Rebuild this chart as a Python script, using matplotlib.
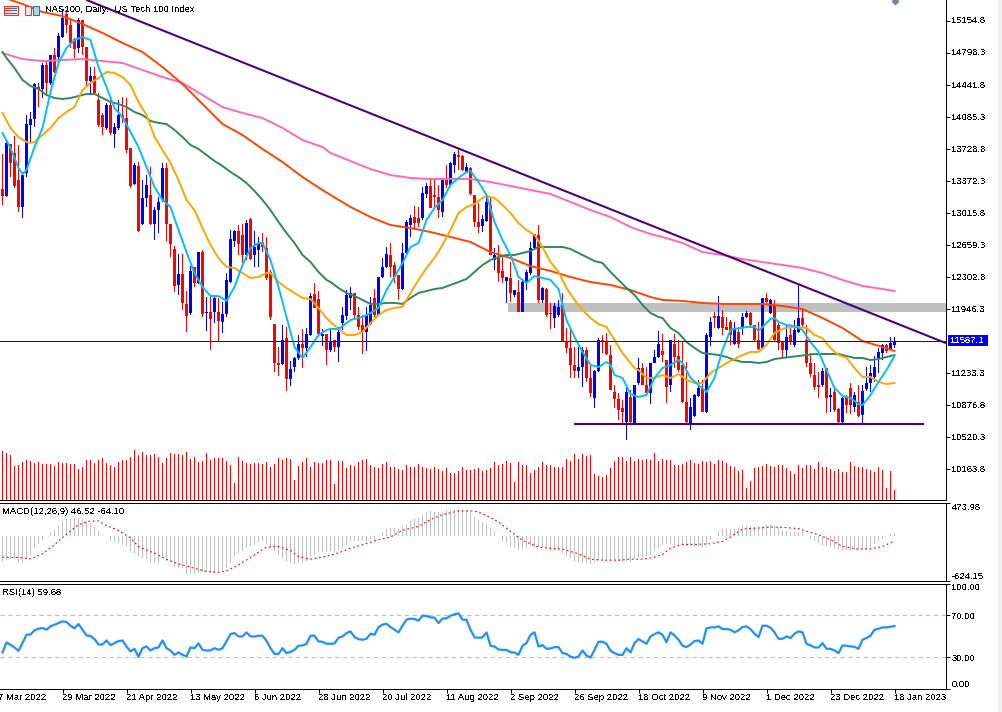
import matplotlib
matplotlib.use('Agg')
import matplotlib.pyplot as plt
from matplotlib import font_manager
from matplotlib.patches import Rectangle
from matplotlib.transforms import ScaledTranslation

#narrow face when it is there, the screenshot text is condensed
names = {f.name for f in font_manager.fontManager.ttflist}
if 'Liberation Sans Narrow' in names:
    plt.rcParams['font.family'] = ['Liberation Sans Narrow', 'DejaVu Sans']
    FS = 7.7
else:
    plt.rcParams['font.family'] = ['Liberation Sans', 'DejaVu Sans']
    FS = 6.8
plt.rcParams['text.antialiased'] = False

W, H = 1002, 712

#daily candles, bar 0 is the first one on screen
opens = [13283,13205,13784,13685,13384,13083,13462,13997,14063,14419,
         14397,14665,14465,14776,14754,14977,15233,15110,14954,14854,
         15166,14865,14487,14542,14275,14107,13963,14219,13896,13963,
         14107,14074,13740,13339,13540,12893,13183,13217,12893,13049,
         13161,13518,12893,12615,12214,12336,12003,11902,12414,12236,
         12581,11902,11913,11913,11913,11802,11891,12247,12704,12816,
         12771,12548,12949,12548,12604,12693,12626,12359,11779,11345,
         11334,11623,11167,11300,11401,11557,11512,11657,12114,12058,
         11646,11668,11490,11601,11523,11790,11869,12069,12125,11880,
         11768,11690,11779,12069,11880,12303,12414,12548,12437,12325,
         12169,12570,12882,12971,12960,12960,13228,13317,13217,13194,
         13027,13384,13328,13551,13662,13651,13473,13518,13217,12916,
         12871,12927,13105,12492,12514,12370,12258,12292,12103,12136,
         11913,12247,12347,12626,12771,12047,12169,11902,11846,11880,
         11991,11590,11512,11323,11255,11300,11490,11178,10955,11255,
         11601,11579,11434,11022,10944,10844,10688,10966,10677,11122,
         11289,11100,11011,11345,11412,11479,11378,11100,11557,11423,
         11323,10911,10677,10755,10978,11067,10799,11635,11869,11735,
         11858,11746,11802,11557,11690,11746,11858,11902,11768,11601,
         11512,12069,11902,11991,11768,11579,11490,11657,11545,11690,
         11846,11601,11345,11211,11100,11100,11289,10966,11022,10833,
         10688,10966,11067,10855,10911,10766,11056,11122,11189,11401,
         11456,11545,11501,11545]
highs = [13673,13807,13784,13874,13773,13473,14107,14141,14465,14465,
         14687,14720,14776,14854,15022,15277,15277,15166,14965,15188,
         15166,14865,14642,14642,14353,14130,14241,14308,14019,14275,
         14308,14297,13740,13573,13584,13384,13439,13529,13083,13194,
         13573,13573,12893,12648,12559,12559,12147,12425,12414,12581,
         12604,12080,12080,12091,12069,12025,12347,12827,12827,12882,
         12893,12938,12960,12816,12749,12793,12749,12381,11779,11523,
         11768,11746,11367,11412,11657,11724,11735,12125,12236,12147,
         11724,11668,11713,11601,11746,11969,12158,12192,12125,11969,
         11880,11969,12080,12169,12303,12514,12637,12682,12470,12325,
         12682,12938,12994,13094,13083,13305,13350,13384,13384,13328,
         13395,13551,13584,13696,13740,13662,13573,13529,13217,13128,
         12994,13194,13194,12626,12660,12526,12303,12470,12158,12270,
         12270,12381,12693,12782,12882,12192,12181,12014,12014,12047,
         12125,11735,11735,11523,11523,11523,11523,11323,11267,11623,
         11657,11679,11545,11100,11011,10933,11100,11044,11100,11401,
         11345,11300,11345,11490,11701,11668,11378,11601,11668,11601,
         11579,11356,10955,11000,11156,11156,11679,11858,11913,12091,
         11935,11858,11824,11802,11746,11902,11924,11913,11768,11802,
         12069,12125,12058,12047,11790,11579,11768,11746,11824,12214,
         11958,11768,11456,11345,11245,11289,11289,11067,11078,10844,
         10989,10989,11122,11022,11100,11100,11300,11323,11423,11512,
         11557,11557,11635,11635]
lows = [13105,13194,13417,13294,13027,12960,13417,13807,13974,14196,
        14297,14330,14442,14576,14665,14965,15022,14854,14743,14798,
        14776,14419,14330,14330,13974,13885,13941,13885,13740,13941,
        14019,13685,13294,13328,12804,12882,13083,12882,12715,12793,
        13139,12704,12526,12136,12103,11935,11690,11880,12192,12225,
        11858,11701,11490,11790,11579,11679,11858,12236,12637,12548,
        12459,12492,12492,12414,12414,12581,12270,11824,11245,11200,
        11323,11033,11089,11245,11378,11289,11412,11646,11958,11635,
        11534,11323,11468,11468,11356,11713,11824,11935,11824,11713,
        11445,11479,11768,11858,11869,12292,12403,12303,12236,12047,
        12158,12548,12749,12827,12860,12938,13183,13072,13072,12960,
        12971,13294,13305,13462,13495,13484,13462,13217,12860,12793,
        12804,12916,12548,12381,12247,12236,12014,12025,12080,11913,
        11913,12158,12325,12604,12014,12014,11858,11724,11735,11858,
        11579,11456,11178,11178,11178,11078,11133,10966,10844,11245,
        11456,11434,11044,10844,10710,10677,10487,10677,10677,11100,
        11100,10989,10889,11345,11401,11356,10899,11022,11289,11245,
        10899,10677,10599,10744,10966,10799,10788,11534,11735,11724,
        11657,11713,11545,11545,11512,11657,11846,11746,11579,11490,
        11501,12014,11891,11579,11490,11401,11401,11545,11523,11679,
        11746,11300,11189,11044,10955,11078,10788,10799,10799,10677,
        10677,10788,10777,10799,10744,10677,11033,11022,11133,11233,
        11378,11456,11490,11512]
closes = [13205,13796,13573,13317,13083,13439,14007,14063,14453,14397,
          14665,14465,14776,14587,14988,15188,15110,14910,14843,15166,
          14865,14487,14542,14353,13997,13974,14219,13907,13974,14107,
          14074,13718,13317,13551,12816,13183,13328,12893,13049,13139,
          13518,12893,12670,12203,12336,12014,11869,12370,12236,12581,
          11891,11913,11835,12069,11813,11891,12270,12726,12816,12670,
          12548,12904,12503,12637,12682,12637,12292,11858,11345,11323,
          11601,11167,11278,11401,11557,11512,11668,12091,11958,11668,
          11668,11490,11590,11523,11690,11880,12103,12125,11880,11746,
          11690,11880,11991,11880,12303,12414,12559,12414,12303,12169,
          12570,12916,12960,12904,12904,13239,13317,13072,13194,13049,
          13384,13328,13573,13673,13640,13495,13529,13228,12916,12860,
          12949,13139,12548,12548,12347,12292,12303,12125,12158,11913,
          12247,12359,12626,12782,12047,12181,11880,11891,11980,11969,
          11590,11512,11323,11255,11300,11490,11178,11011,11255,11601,
          11579,11445,11044,10944,10821,10799,11022,10688,11100,11289,
          11100,11011,11345,11412,11557,11434,11078,11601,11412,11267,
          10911,10688,10855,10989,11067,10799,11657,11802,11846,11869,
          11735,11713,11657,11735,11557,11858,11902,11768,11601,11501,
          12069,12025,12047,11601,11568,11490,11635,11590,11713,11846,
          11768,11345,11222,11078,11078,11255,10955,10989,10821,10688,
          10955,10877,10877,10989,10755,11033,11122,11233,11300,11468,
          11545,11479,11568,11587.1]

#volume, indicator own scale
volume = [49,47,45,34,35,38,40,39,37,38,36,36,36,34,38,37,37,36,36,31,
          33,40,40,37,40,42,37,35,33,38,40,40,43,50,45,48,45,45,46,43,
          37,42,47,46,46,45,48,41,43,38,39,47,40,42,42,42,39,35,17,43,
          39,37,36,37,37,36,38,33,36,42,40,42,41,20,34,38,42,33,38,37,
          37,40,40,16,39,39,32,35,34,38,40,41,35,33,32,36,38,33,33,31,
          30,35,33,33,36,33,32,31,33,31,29,32,27,27,29,33,30,30,31,32,
          29,30,32,38,35,36,39,37,18,38,35,35,27,30,33,38,35,35,33,33,
          33,41,39,46,41,46,44,45,26,24,23,25,32,39,43,43,39,43,39,41,
          40,41,40,47,39,41,40,40,35,35,36,38,40,37,36,39,38,39,36,40,
          39,37,34,33,29,30,12,19,32,33,34,36,34,33,35,35,32,29,26,35,
          32,35,35,31,38,33,33,31,29,31,28,28,38,34,33,33,31,30,28,33,
          30,12,29,10]

fast_x = [0,2,4,5,6,8,10,12,14,16,18,20,22,24,26,28,30,32,34,36,38,40,42,44,46,48,50,52,54,56,58,60,62,64,65,67,69,71,73,75,77,79,81,82,84,87,90,92,94,96,98,100,102,104,106,108,110,112,114,116,117,119,121,123,125,127,129,131,133,135,137,139,141,143,145,147,149,151,152,153,155,157,159,161,163,165,167,169,170,172,174,176,178,180,182,183,186,188,189,190,192,193,194,196,198,200,202,204,206,208,210,212,214,215,217,219,221,223]
fast_ma = [13907,13740,13518,13451,13495,13751,13963,14364,14687,14854,14943,14977,14943,14642,14419,14185,14085,13918,13751,13529,13305,13161,13083,12827,12581,12347,12192,12091,12091,12036,12192,12437,12626,12682,12682,12492,12192,11858,11523,11401,11523,11657,11713,11724,11724,11824,11858,11902,11958,12158,12303,12459,12637,12682,12938,13072,13161,13328,13406,13473,13484,13361,13217,12916,12715,12548,12303,12236,12314,12292,12270,12169,11824,11635,11468,11323,11300,11356,11323,11211,11178,11000,10966,10989,11178,11289,11323,11378,11345,11178,11100,11022,11178,11490,11713,11724,11746,11746,11701,11746,11835,11846,11802,11768,11757,11713,11579,11468,11267,11067,10978,10955,10889,10877,10989,11133,11267,11423]
mid_x = [0,2,4,6,7,8,10,12,14,16,18,20,22,24,26,28,30,32,34,36,38,40,42,44,46,48,50,52,54,56,58,60,62,64,66,67,69,71,73,75,77,79,81,82,84,86,88,90,92,94,96,98,100,102,104,106,108,110,112,114,116,118,120,121,123,125,127,129,131,133,135,137,139,141,143,145,147,149,151,153,155,157,158,159,161,163,165,167,169,171,173,175,177,179,181,183,185,187,189,191,193,195,197,199,201,203,205,207,209,211,213,215,217,219,221,223]
mid_ma = [14130,13963,13863,13807,13796,13807,13885,13963,14074,14141,14196,14386,14465,14520,14587,14576,14531,14442,14252,14107,13863,13718,13573,13384,13161,13049,12849,12660,12514,12414,12403,12347,12292,12303,12347,12347,12247,12181,12125,12069,12058,11958,11846,11802,11724,11657,11657,11690,11790,11880,11935,11958,11969,12125,12270,12403,12514,12660,12827,13016,13083,13116,13183,13205,13183,13105,13016,12904,12827,12771,12637,12470,12359,12181,12047,11935,11846,11779,11746,11601,11456,11345,11289,11267,11178,11178,11211,11178,11222,11156,11122,11122,11233,11289,11345,11389,11434,11468,11468,11545,11679,11724,11746,11746,11735,11657,11623,11512,11434,11401,11289,11189,11189,11133,11111,11122]
slow_x = [0,1,3,5,7,9,11,13,15,17,19,21,23,25,27,29,31,33,35,37,39,41,43,45,47,49,51,53,55,57,59,61,63,65,67,69,71,73,75,77,79,81,82,84,86,88,90,92,94,96,98,100,102,104,106,108,110,112,114,116,118,120,122,124,126,128,130,132,134,136,138,140,142,144,146,148,150,152,154,156,158,160,162,164,165,167,169,171,173,175,177,179,181,183,185,187,189,191,193,195,197,199,201,203,205,207,209,211,213,215,217,219,221,223]
slow_ma = [14809,14743,14631,14498,14431,14397,14330,14297,14286,14297,14319,14342,14342,14297,14252,14230,14196,14141,14107,14041,14019,14007,13941,13863,13773,13729,13662,13595,13540,13473,13417,13350,13261,13161,13049,12916,12793,12682,12548,12470,12359,12270,12247,12181,12125,12091,12047,12003,12003,12014,12014,12003,12069,12125,12147,12169,12181,12214,12247,12281,12359,12437,12492,12526,12548,12548,12570,12593,12637,12637,12637,12637,12615,12570,12526,12481,12459,12359,12270,12181,12103,11991,11902,11858,11846,11735,11679,11579,11512,11456,11445,11434,11412,11378,11356,11356,11345,11356,11389,11401,11412,11423,11434,11445,11445,11445,11445,11423,11401,11401,11378,11389,11412,11434]
ma100_x = [0,2,5,10,15,20,25,30,35,40,45,50,55,60,65,70,75,80,82,87,92,97,102,107,112,117,122,127,132,137,142,147,152,157,162,165,170,175,180,185,190,195,200,205,210,215,220,223]
ma100 = [15445,15389,15344,15255,15210,15121,15022,14910,14809,14642,14453,14230,14007,13885,13729,13584,13417,13272,13217,13083,12971,12882,12849,12804,12749,12693,12581,12514,12425,12370,12303,12247,12214,12158,12080,12047,12036,12014,12003,12003,12003,11980,11946,11846,11735,11590,11523,11479]
ma200_x = [0,5,10,15,20,25,30,35,40,45,50,55,60,65,70,75,80,82,87,92,97,102,107,112,117,122,127,132,137,142,147,152,157,162,165,170,175,180,185,190,195,200,205,210,215,220,223]
ma200 = [14798,14731,14709,14720,14731,14709,14687,14609,14531,14465,14330,14196,14130,14074,13963,13829,13751,13684,13595,13506,13439,13406,13395,13395,13395,13361,13317,13272,13228,13139,13049,12971,12860,12782,12749,12682,12581,12548,12503,12470,12437,12403,12347,12270,12203,12169,12147]

#drawn lines and levels
trend_x = [21.2, 235.6]
trend_y = [15385, 11571]
support_x = [143, 230.2]
support_y = [10665, 10665]
band_x = 126.4
band_top = 12017
band_bottom = 11916
last_price = 11587.1

#MACD
macd_hist = [-338,-328,-319,-319,-366,-352,-328,-258,-164,-103,-47,0,56,94,150,211,249,249,258,258,
             244,211,188,131,70,23,0,-70,-75,-94,-117,-131,-211,-235,-281,-305,-319,-352,-366,-366,
             -305,-338,-352,-422,-446,-446,-530,-530,-516,-492,-492,-492,-507,-507,-492,-469,-446,-366,-281,-235,
             -211,-164,-141,-117,-94,-70,-103,-164,-211,-258,-305,-338,-375,-385,-366,-352,-338,-281,-258,-225,
             -225,-225,
             -211,-211,-188,-164,-117,-70,-70,-70,-70,-70,-47,-47,0,56,103,117,117,103,131,164,
             211,244,258,305,338,352,342,342,347,366,366,385,375,366,366,338,272,234,188,178,
             117,70,0,-61,-94,-131,-164,-188,-197,-169,-141,-150,-150,-150,-164,-211,-188,-188,-235,-281,
             -305,-338,-352,-366,-375,-385,-366,-338,-328,-328,-328,-328,-338,-352,-338,-352,-319,-305,-291,-281,
             -258,-211,-164,
             -117,-103,-103,-122,-122,-122,-131,-141,-141,-141,-155,-117,-47,9,70,103,103,103,103,117,
             150,150,150,131,131,141,155,164,141,131,94,70,61,61,61,56,9,-38,-70,-94,
             -117,-131,-150,-164,-197,-197,-197,-197,-197,-211,-197,-188,-150,-103,-70,-38,0,33,46.52]
signal_x = [0,4,7,10,13,16,19,22,24,26,29,32,34,38,41,44,48,51,54,56,59,63,66,69,72,74,77,80,82,85,87,90,94,97,100,104,107,110,114,118,120,124,127,130,134,137,140,144,147,150,154,157,160,163,165,167,170,173,177,180,182,185,189,192,195,199,200,204,207,210,214,217,220,223]
signal = [-291,-295,-314,-244,-117,33,164,216,216,150,84,-23,-141,-235,-319,-385,-446,-492,-502,-483,-399,-258,-150,-141,-197,-281,-319,-291,-263,-211,-164,-117,-47,-9,84,141,235,305,356,356,319,202,70,-56,-150,-169,-178,-244,-319,-333,-333,-319,-319,-291,-253,-164,-113,-113,-103,-70,-9,103,117,131,127,108,89,23,-47,-141,-178,-174,-141,-64.1]

#RSI
rsi = [34.6,44.1,41.9,39.4,36.2,43.5,51.4,51.7,55.6,57.1,57.8,56.2,59.4,61,62.5,64.1,63.5,60,57.5,61.6,
       56.2,50.8,50.2,47.3,42.2,42.2,46,41.6,43.5,45.4,46,40.3,35.6,38.1,30.5,38.7,40.3,36.5,38.7,39.4,
       46,38.7,36.5,32.4,34.6,32.4,30.8,39.4,38.7,43.2,37.1,36.5,36.5,38.7,37.1,38.7,45.1,52.1,53,49.8,
       49.8,53.7,49.8,49.8,50.5,50.5,45.7,38.7,33.3,33.3,38.7,34,35.2,37.1,41,41.3,42.9,50.5,50.5,45.1,
       44.8,42.9,42.9,43.2,48.6,
       49.8,53,54.6,49.2,47.3,46.7,47.6,52.4,51.4,58.7,61,61.9,58.7,56.2,53.7,60,65.7,66.7,66.3,64.8,
       69.5,69.2,67.9,67.6,62.5,66.7,67,69.5,70.8,71.7,65.7,65.7,56.2,48.9,48.6,48.9,53.7,41,40.3,37.5,
       37.1,37.1,34.9,34.6,32.4,41,43.5,51.4,53.7,40.3,41.6,38.1,38.4,39.7,39.7,34,33.3,30.8,29.5,30.8,
       36.5,31.7,29.8,37.1,44.8,44.8,42.9,36.2,34,32.4,32.4,38.7,34.6,43.5,47.3,45.1,42.9,49.8,52.1,53.7,
       51.4,44.4,53.7,50.8,46.7,41,39.7,42.2,45.4,46,42.9,57.5,58.4,58.4,59.4,56.8,56.8,56.2,53.7,55.6,
       58.7,59.4,56.8,52.4,49.2,60,60,58.1,53.7,47.6,47.6,49.8,48.3,52.4,54.6,53.7,42.9,41.3,39.4,39.4,
       43.5,38.1,38.1,36.5,34,41.3,41,40.3,40,38.1,46.7,48.3,50.5,56.2,57.1,58.4,58.4,59,59.68]

price_ticks = [15154.8,14798.3,14441.8,14085.3,13728.8,13372.3,13015.8,12659.3,12302.8,11946.3,11233.3,10876.8,10520.3,10163.8]
date_ticks = [-1,15,31,47,63,79,95,111,127,143,159,175,191,207,223]
date_labels = ['7 Mar 2022','29 Mar 2022','21 Apr 2022','13 May 2022','6 Jun 2022','28 Jun 2022','20 Jul 2022',
               '11 Aug 2022','2 Sep 2022','26 Sep 2022','18 Oct 2022','9 Nov 2022','1 Dec 2022','23 Dec 2022','18 Jan 2023']

assert len(opens) == len(highs) == len(lows) == len(closes) == len(volume) == len(macd_hist) == len(rsi) == 224
assert len(fast_x) == len(fast_ma) and len(mid_x) == len(mid_ma) and len(slow_x) == len(slow_ma)
assert len(ma100_x) == len(ma100) and len(ma200_x) == len(ma200) and len(signal_x) == len(signal)

XLIM = (-0.625, 235.75)
BAR_W = 0.2   #one pixel after snapping
MA_LW = 1.4
SPINE_LW = 0.72


def panel(top, bottom):
    ax = fig.add_axes([0, 1 - bottom / H, 945.5 / W, (bottom - top) / H])
    ax.set_xlim(*XLIM)
    ax.set_xticks([])
    ax.spines['top'].set_visible(False)
    ax.spines['left'].set_visible(False)
    ax.spines['right'].set_linewidth(SPINE_LW)
    ax.spines['bottom'].set_linewidth(SPINE_LW)
    ax.yaxis.tick_right()
    ax.tick_params(axis='y', direction='out', length=3, width=SPINE_LW, pad=1.5, labelsize=FS)
    ax.patch.set_alpha(0)
    return ax


def lift(ax):
    #tick labels sit one pixel higher in the screenshot
    up = ScaledTranslation(0, 1 / 100, fig.dpi_scale_trans)
    for lab in ax.get_yticklabels():
        lab.set_transform(lab.get_transform() + up)


fig = plt.figure(figsize=(W / 100, H / 100), dpi=100, facecolor='white')
fig.add_artist(Rectangle((998 / W, 0), 4 / W, 1, transform=fig.transFigure, color='#f0f0f0', lw=0))

#volume sits under the candles
ax_v = panel(0, 500)
ax_v.set_ylim(0, 500)
ax_v.set_yticks([])
bars = list(range(len(opens)))
ax_v.bar(bars, volume, BAR_W, color='#ff0000', lw=0, antialiased=False)

ax = panel(0, 500)
ax.set_ylim(9818.7, 15388.7)
ax.set_yticks(price_ticks)
ax.set_yticklabels([f'{p:.1f}' for p in price_ticks])
lift(ax)

ax.add_patch(Rectangle((band_x, band_bottom), XLIM[1] - band_x, band_top - band_bottom,
                       facecolor='#bfbfbf', lw=0, zorder=1))

for i in bars:
    col = '#0000ff' if closes[i] >= opens[i] else '#ff0000'
    ax.bar(i, highs[i] - lows[i], BAR_W, lows[i], color=col, lw=0, antialiased=False, zorder=2)
    ax.bar(i, abs(closes[i] - opens[i]) + 8, 0.7, min(opens[i], closes[i]) - 4, color=col, lw=0,
           antialiased=False, zorder=2)

ax.plot(ma200_x, ma200, color='#ff69b4', lw=MA_LW, zorder=3)
ax.plot(ma100_x, ma100, color='#ff4500', lw=MA_LW, zorder=3)
ax.plot(slow_x, slow_ma, color='#2e8b57', lw=MA_LW, zorder=3)
ax.plot(mid_x, mid_ma, color='#ffa500', lw=MA_LW, zorder=3)
ax.plot(fast_x, fast_ma, color='#00bfff', lw=MA_LW, zorder=3)
ax.plot(trend_x, trend_y, color='#4b0082', lw=1.5, zorder=4)
ax.plot(support_x, support_y, color='#4b0082', lw=1.5, zorder=4)
#last price level, one pixel band
ax.barh(last_price, XLIM[1] - XLIM[0], 9, XLIM[0], color='#0000ff', lw=0, antialiased=False, zorder=4)
#small marker above the last bar
ax.plot([223], [15375], marker='D', ms=3.2, color='#778899', zorder=5)

fig.text(45 / W, 1 - 9.5 / H, 'NAS100, Daily:  US Tech 100 Index', fontsize=FS, va='center', ha='left')

#window icons at the top left
for x0, edge, fill in [(3.5, '#e03c31', '#fbe3e0'), (24.5, '#e03c31', '#fbe3e0'), (32.5, '#1b75bb', '#a8d8f0')]:
    w = 14 if x0 == 3.5 else 6
    fig.add_artist(Rectangle((x0 / W, 1 - 14.5 / H), w / W, 9 / H, transform=fig.transFigure,
                             facecolor=fill, edgecolor=edge, lw=0.8))
for yy in (7.5, 10, 12.5):
    fig.add_artist(plt.Line2D([5 / W, 10 / W], [1 - yy / H] * 2, color='#e03c31', lw=0.7))
    fig.add_artist(plt.Line2D([11 / W, 16 / W], [1 - yy / H] * 2, color='#1b75bb', lw=0.7))

#last price tag
fig.add_artist(Rectangle((947.5 / W, 1 - 346 / H), 40 / W, 11 / H, transform=fig.transFigure, color='#0000ff', lw=0))
fig.text(967.5 / W, 1 - 340.5 / H, f'{last_price:.1f}', color='white', fontsize=FS, ha='center', va='center')

#MACD panel
ax_m = panel(502.5, 581)
ax_m.set_ylim(-624.15, 473.98)
ax_m.bar(bars, macd_hist, BAR_W, color='#c0c0c0', lw=0, antialiased=False)
ax_m.plot(signal_x, signal, color='#ff0000', lw=0.8, ls=(0, (1.6, 2.4)))
ax_m.set_yticks([473.98, -624.15])
ax_m.set_yticklabels(['473.98', '-624.15'])
labs = ax_m.get_yticklabels()
labs[0].set_verticalalignment('top')
labs[1].set_verticalalignment('bottom')
ax_m.text(2 / 945, 0.883, 'MACD(12,26,9) 46.52 -64.10', transform=ax_m.transAxes, fontsize=FS, va='center')
ax_m.spines['top'].set_visible(True)
ax_m.spines['top'].set_linewidth(SPINE_LW)

#RSI panel
ax_r = panel(583.5, 689)
ax_r.set_ylim(0, 100)
ax_r.axhline(70, color='#c0c0c0', lw=0.8, ls=(0, (4, 3)))
ax_r.axhline(30, color='#c0c0c0', lw=0.8, ls=(0, (4, 3)))
ax_r.plot(bars, rsi, color='#1e90ff', lw=1.6)
ax_r.set_yticks([100, 70, 30, 0])
ax_r.set_yticklabels(['100.00', '70.00', '30.00', '0.00'])
labs = ax_r.get_yticklabels()
labs[0].set_verticalalignment('top')
labs[3].set_verticalalignment('bottom')
ax_r.text(2 / 945, 0.917, 'RSI(14) 59.68', transform=ax_r.transAxes, fontsize=FS, va='center')
ax_r.spines['top'].set_visible(True)
ax_r.spines['top'].set_linewidth(SPINE_LW)

#dates under the last panel
ax_r.set_xticks(date_ticks[1:])
ax_r.set_xticklabels([])
ax_r.tick_params(axis='x', direction='out', length=3, width=SPINE_LW)
for t, lab in zip(date_ticks, date_labels):
    ax_r.annotate(lab, (t, 0), xytext=(0, -9), textcoords='offset pixels', xycoords=('data', 'axes fraction'),
                  fontsize=FS, ha='left', va='center', annotation_clip=False)

fig.savefig('out.png', dpi=100)
